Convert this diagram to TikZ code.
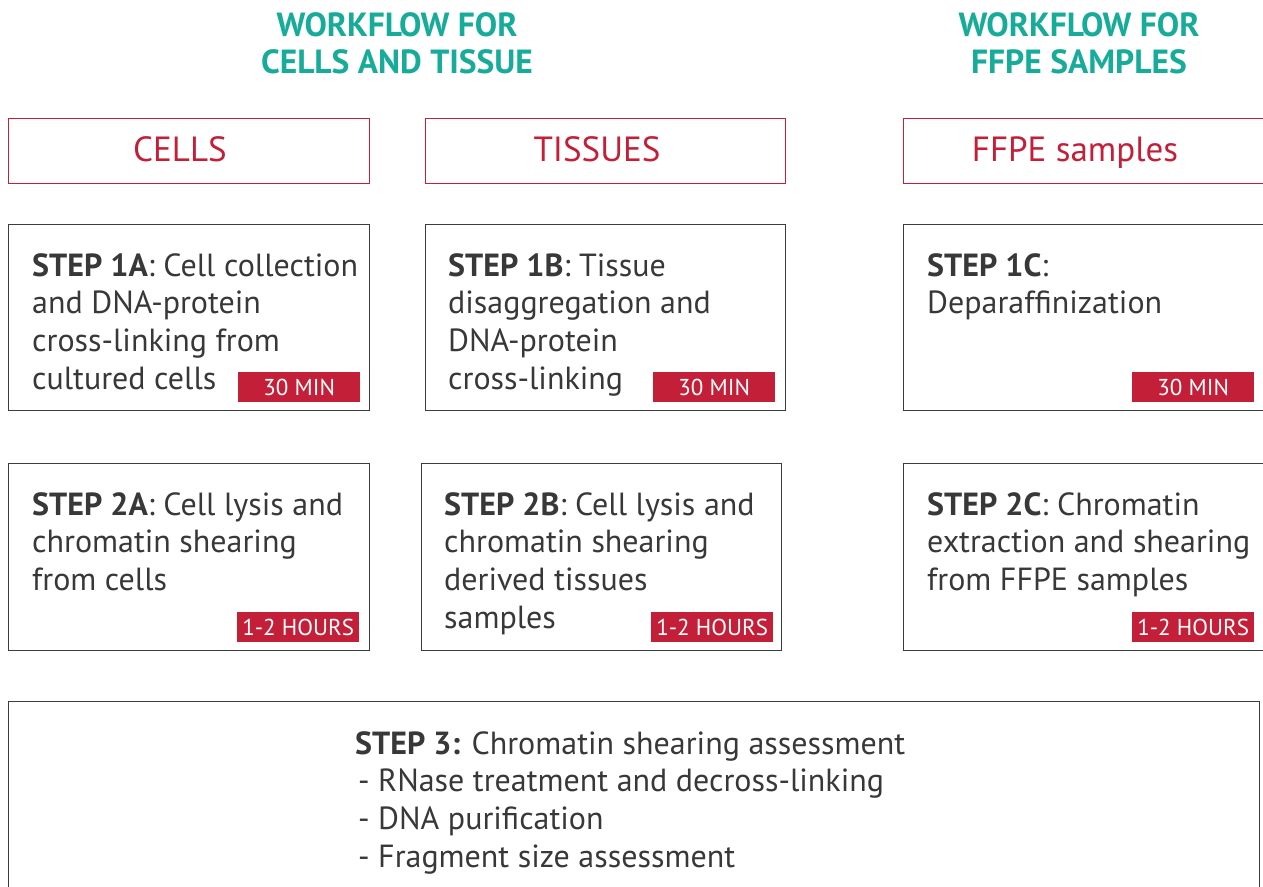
\documentclass[tikz,border=0pt]{standalone}
\usepackage{fontspec}
\setmainfont{PT Sans}
\definecolor{wfteal}{HTML}{17AB9A}
\definecolor{wfred}{HTML}{C41F39}
\definecolor{wftext}{HTML}{383838}
\definecolor{wfframe}{HTML}{3C3C3C}
\begin{document}
\begin{tikzpicture}[x=1pt,y=-1pt,
  framebox/.style={draw=wfframe,line width=1.3pt,anchor=north west,inner sep=0,minimum width=#1},
  headbox/.style={draw=wfred,line width=1.3pt,anchor=north west,inner sep=0,minimum height=65pt,minimum width=#1},
  headtext/.style={text=wfred,font=\fontsize{35}{40}\selectfont,anchor=base,inner sep=0},
  titletext/.style={text=wfteal,font=\fontsize{33.5}{37}\selectfont\bfseries,align=center,anchor=north,inner sep=0},
  bodytext/.style={text=wftext,font=\fontsize{32}{37.7}\selectfont,align=left,anchor=north west,inner sep=0},
  badge/.style={fill=wfred,text=white,font=\fontsize{23}{26}\selectfont,anchor=north west,inner sep=0,minimum width=122pt,minimum height=30pt}
]
\useasboundingbox (0,0) rectangle (1263,886);
\clip (0,0) rectangle (1263,886);

% column titles
\node[titletext] (t1) at (397,6) {\rule{0pt}{30pt}WORKFLOW FOR\\CELLS AND TISSUE};
\node[titletext] (t2) at (1079,6) {\rule{0pt}{30pt}WORKFLOW FOR\\FFPE SAMPLES};

% sample type headers
\node[headbox=361pt] (hA) at (8,118) {};
\node[headbox=360pt] (hB) at (425,118) {};
\node[headbox=380pt] (hC) at (903,118) {};
\node[headtext] (hAt) at (180,161) {CELLS};
\node[headtext] (hBt) at (597,161) {TISSUES};
\node[headtext] (hCt) at (1075,161) {FFPE samples};

% step 1 boxes
\node[framebox=361pt,minimum height=186pt] (s1a) at (8,224) {};
\node[framebox=360pt,minimum height=186pt] (s1b) at (425,224) {};
\node[framebox=380pt,minimum height=186pt] (s1c) at (903,224) {};
\node[bodytext] (s1at) at (32,246) {\rule{0pt}{30pt}\textbf{STEP 1A}: Cell collection\\and DNA-protein\\cross-linking from\\cultured cells};
\node[bodytext] (s1bt) at (448,246) {\rule{0pt}{30pt}\textbf{STEP 1B}: Tissue\\disaggregation and\\DNA-protein\\cross-linking};
\node[bodytext] (s1ct) at (927,246) {\rule{0pt}{30pt}\textbf{STEP 1C}:\\Deparaffinization};
\node[badge] (b1a) at (238,372) {30 MIN};
\node[badge] (b1b) at (653,372) {30 MIN};
\node[badge] (b1c) at (1132,372) {30 MIN};

% step 2 boxes
\node[framebox=361pt,minimum height=187pt] (s2a) at (8,463) {};
\node[framebox=360pt,minimum height=187pt] (s2b) at (421,463) {};
\node[framebox=380pt,minimum height=187pt] (s2c) at (903,463) {};
\node[bodytext] (s2at) at (32,485) {\rule{0pt}{30pt}\textbf{STEP 2A}: Cell lysis and\\chromatin shearing\\from cells};
\node[bodytext] (s2bt) at (444,485) {\rule{0pt}{30pt}\textbf{STEP 2B}: Cell lysis and\\chromatin shearing\\derived tissues\\samples};
\node[bodytext] (s2ct) at (927,485) {\rule{0pt}{30pt}\textbf{STEP 2C}: Chromatin\\extraction and shearing\\from FFPE samples};
\node[badge] (b2a) at (237,612) {1-2 HOURS};
\node[badge] (b2b) at (651,612) {1-2 HOURS};
\node[badge] (b2c) at (1132,612) {1-2 HOURS};

% step 3 box
\node[framebox=1251pt,minimum height=220pt] (s3) at (8,701) {};
\node[bodytext] (s3t) at (355,724) {\rule{0pt}{30pt}\textbf{STEP 3:} Chromatin shearing assessment\\\hspace{3pt}- RNase treatment and decross-linking\\\hspace{3pt}- DNA purification\\\hspace{3pt}- Fragment size assessment};
\end{tikzpicture}
\end{document}
